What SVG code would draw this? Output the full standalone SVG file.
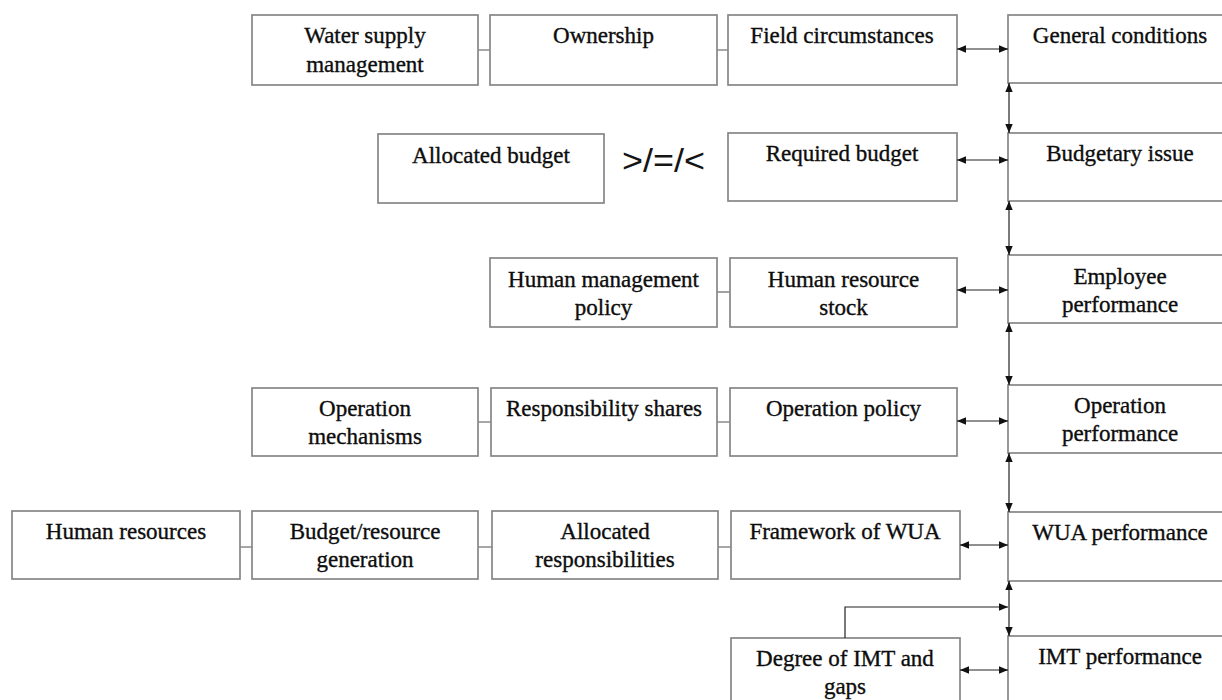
<svg xmlns="http://www.w3.org/2000/svg" width="1222" height="700" viewBox="0 0 1222 700">
<style>
.box{fill:#fff;stroke:#868686;stroke-width:1.7}
.t{font-family:"Liberation Serif","Times New Roman",serif;font-size:23px;fill:#0d0d0d;stroke:#0d0d0d;stroke-width:0.35;text-anchor:middle}
.sym{font-family:"Liberation Sans",Arial,sans-serif;font-size:33px;fill:#151515}
.lk{stroke:#8a8a8a;stroke-width:1.6;fill:none}
.ar{stroke:#222;stroke-width:1.2;fill:none;marker-end:url(#ah)}
.dar{stroke:#222;stroke-width:1.2;fill:none;marker-start:url(#ah);marker-end:url(#ah)}
</style>
<defs>
<marker id="ah" viewBox="0 0 9 9" refX="9" refY="4.5" markerWidth="9" markerHeight="9" markerUnits="userSpaceOnUse" orient="auto-start-reverse">
<path d="M0,0.8 L9,4.5 L0,8.2 z" fill="#111"/>
</marker>
</defs>
<rect width="1222" height="700" fill="#fff"/>

<!-- Row 1 -->
<g id="water-supply"><rect class="box" x="252" y="15" width="226" height="70"/><text class="t" x="365" y="43">Water supply</text><text class="t" x="365" y="72">management</text></g>
<g id="ownership"><rect class="box" x="490" y="15" width="227" height="70"/><text class="t" x="603.5" y="43">Ownership</text></g>
<g id="field"><rect class="box" x="728" y="15" width="229" height="70"/><text class="t" x="842" y="43">Field circumstances</text></g>
<g id="general"><rect class="box" x="1008" y="15" width="226" height="68"/><text class="t" x="1120" y="43">General conditions</text></g>

<!-- Row 2 -->
<g id="allocated-budget"><rect class="box" x="378" y="134" width="226" height="69"/><text class="t" x="491" y="163">Allocated budget</text></g>
<g id="compare"><text class="sym" x="622" y="172" textLength="83" lengthAdjust="spacingAndGlyphs">&gt;/=/&lt;</text></g>
<g id="required-budget"><rect class="box" x="728" y="133" width="229" height="68"/><text class="t" x="842" y="161">Required budget</text></g>
<g id="budgetary"><rect class="box" x="1008" y="133" width="226" height="68"/><text class="t" x="1120" y="161">Budgetary issue</text></g>

<!-- Row 3 -->
<g id="human-mgmt"><rect class="box" x="490" y="258" width="227" height="69"/><text class="t" x="603.5" y="287">Human management</text><text class="t" x="603.5" y="315">policy</text></g>
<g id="hr-stock"><rect class="box" x="730" y="258" width="227" height="69"/><text class="t" x="843.5" y="287">Human resource</text><text class="t" x="843.5" y="315">stock</text></g>
<g id="employee"><rect class="box" x="1008" y="255" width="226" height="68"/><text class="t" x="1120" y="284">Employee</text><text class="t" x="1120" y="312">performance</text></g>

<!-- Row 4 -->
<g id="op-mech"><rect class="box" x="252" y="388" width="226" height="68"/><text class="t" x="365" y="416">Operation</text><text class="t" x="365" y="444">mechanisms</text></g>
<g id="resp-shares"><rect class="box" x="491" y="388" width="226" height="68"/><text class="t" x="604" y="416">Responsibility shares</text></g>
<g id="op-policy"><rect class="box" x="730" y="388" width="227" height="68"/><text class="t" x="843.5" y="416">Operation policy</text></g>
<g id="op-perf"><rect class="box" x="1008" y="385" width="226" height="68"/><text class="t" x="1120" y="413">Operation</text><text class="t" x="1120" y="441">performance</text></g>

<!-- Row 5 -->
<g id="human-res"><rect class="box" x="12" y="511" width="228" height="68"/><text class="t" x="126" y="539">Human resources</text></g>
<g id="budget-gen"><rect class="box" x="252" y="511" width="226" height="68"/><text class="t" x="365" y="539">Budget/resource</text><text class="t" x="365" y="567">generation</text></g>
<g id="alloc-resp"><rect class="box" x="492" y="511" width="226" height="68"/><text class="t" x="605" y="539">Allocated</text><text class="t" x="605" y="567">responsibilities</text></g>
<g id="framework"><rect class="box" x="731" y="511" width="229" height="68"/><text class="t" x="845" y="539">Framework of WUA</text></g>
<g id="wua-perf"><rect class="box" x="1008" y="512" width="226" height="69"/><text class="t" x="1120" y="540">WUA performance</text></g>

<!-- Row 6 -->
<g id="degree"><rect class="box" x="731" y="638" width="229" height="80"/><text class="t" x="845" y="666">Degree of IMT and</text><text class="t" x="845" y="694">gaps</text></g>
<g id="imt-perf"><rect class="box" x="1008" y="636" width="226" height="80"/><text class="t" x="1120" y="664">IMT performance</text></g>

<g id="connectors">
<path class="lk" d="M478,50H490M717,50H728"/>
<path class="lk" d="M717,292H730"/>
<path class="lk" d="M478,422H491M717,422H730"/>
<path class="lk" d="M240,547H252M478,547H492M718,547H731"/>
<path class="dar" d="M957,49H1008"/>
<path class="dar" d="M957,160H1008"/>
<path class="dar" d="M957,290H1008"/>
<path class="dar" d="M957,421H1008"/>
<path class="dar" d="M960,545H1008"/>
<path class="dar" d="M960,670H1008"/>
<path class="dar" d="M1009,83V133"/>
<path class="dar" d="M1009,201V255"/>
<path class="dar" d="M1009,323V385"/>
<path class="dar" d="M1009,453V512"/>
<path class="dar" d="M1009,581V636"/>
<path class="ar" d="M845,638V607H1008"/>
</g>
</svg>
